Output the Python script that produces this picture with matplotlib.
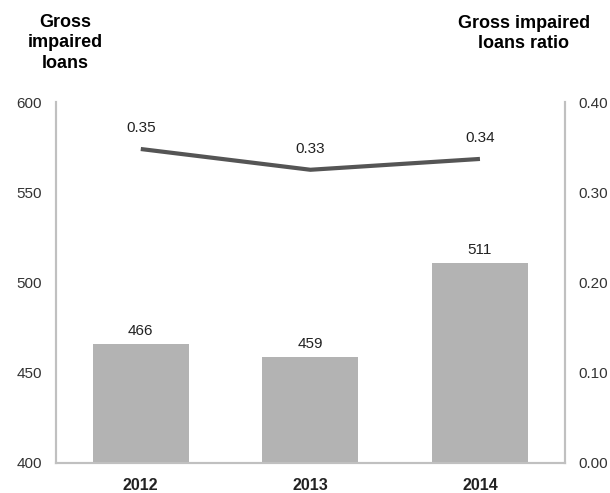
import matplotlib
matplotlib.use("Agg")
import matplotlib.pyplot as plt
import numpy as np

plt.rcParams['font.family'] = ['Liberation Sans', 'DejaVu Sans']

# data
years = ['2012', '2013', '2014']
gross_loans = [466, 459, 511]
loan_labels = ['466', '459', '511']
ratio = [0.348, 0.325, 0.337]
ratio_labels = ['0.35', '0.33', '0.34']

left_ticks = [400, 450, 500, 550, 600]
right_ticks = [0.00, 0.10, 0.20, 0.30, 0.40]

fig = plt.figure(figsize=(6.1, 4.93), dpi=100)
ax = fig.add_axes([0.0918, 0.0609, 0.834, 0.732])
x = np.arange(len(years))

#---bars (left axis)------------------------------
ax.bar(x, gross_loans, width=0.565, color='#b3b3b3', zorder=2)
ax.set_ylim(400, 600)
ax.set_xlim(-0.5, 2.5)
ax.set_yticks(left_ticks)
ax.set_yticklabels([str(t) for t in left_ticks], fontsize=11, color='#333333')
ax.set_xticks(x)
ax.set_xticklabels(years, fontsize=11.5, fontweight='bold', color='#222222')
ax.tick_params(axis='y', length=0, pad=10)
ax.tick_params(axis='x', length=0, pad=11)

for i in range(len(years)):
    ax.annotate(loan_labels[i], (x[i], gross_loans[i]), xytext=(0, 4),
                textcoords='offset points', ha='center', va='bottom',
                fontsize=11, color='#222222')

#---line (right axis)-----------------------------
ax2 = ax.twinx()
ax2.plot(x, ratio, color='#555555', linewidth=3, solid_capstyle='butt', zorder=3)
ax2.set_ylim(0, 0.40)
ax2.set_yticks(right_ticks)
ax2.set_yticklabels(['%.2f' % t for t in right_ticks], fontsize=11, color='#333333')
ax2.tick_params(axis='y', length=0, pad=10)

for i in range(len(years)):
    ax2.annotate(ratio_labels[i], (x[i], ratio[i]), xytext=(0, 10),
                 textcoords='offset points', ha='center', va='bottom',
                 fontsize=11, color='#222222')

for a in (ax, ax2):
    a.spines['top'].set_visible(False)
    for s in ('left', 'right', 'bottom'):
        a.spines[s].set_color('#c0c0c0')
        a.spines[s].set_linewidth(1.5)

#---axis titles------------------------------------
fig.text(65 / 610, 1 - 14 / 493, 'Gross\nimpaired\nloans', ha='center', va='top',
         fontsize=13, fontweight='bold', linespacing=1.25)
fig.text(524 / 610, 1 - 15 / 493, 'Gross impaired\nloans ratio', ha='center', va='top',
         fontsize=13, fontweight='bold', linespacing=1.25)

fig.savefig('out.png', dpi=100)
